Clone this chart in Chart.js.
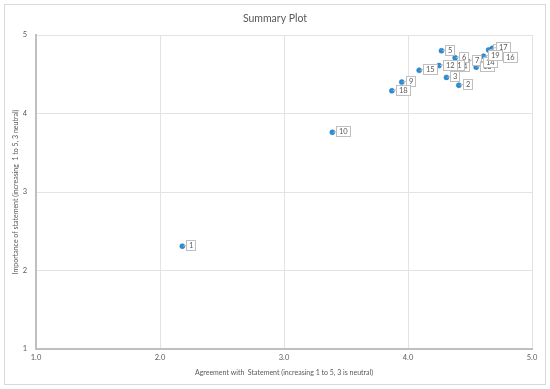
<!DOCTYPE html>
<html>
<head>
<meta charset="utf-8">
<script src="https://cdn.jsdelivr.net/npm/chart.js@4/dist/chart.umd.min.js"></script>
<style>
    html, body { margin: 0; padding: 0; background: #fff; }
    #wrap { width: 550px; height: 389px; }
</style>
</head>
<body>
<div id="wrap"><canvas id="summaryPlot" width="550" height="389"></canvas></div>
<script>
const statementIds = ["1", "2", "3", "4", "5", "6", "7", "8", "9", "10",
    "11", "12", "13", "14", "15", "16", "17", "18", "19"];
const agreement = [2.18, 4.41, 4.31, 4.39, 4.27, 4.38, 4.48, 4.65, 3.95, 3.39,
    4.31, 4.25, 4.55, 4.57, 4.09, 4.73, 4.68, 3.87, 4.61];
const importance = [2.31, 4.36, 4.46, 4.59, 4.80, 4.71, 4.67, 4.81, 4.40, 3.76,
    4.60, 4.61, 4.59, 4.64, 4.55, 4.71, 4.83, 4.29, 4.73];
const xTicks = [1, 2, 3, 4, 5];
const yTicks = [1, 2, 3, 4, 5];

const chartTitle = "Summary Plot";
const textColor = "#595959";
const fontFamily = "Lato, 'Open Sans', sans-serif";

// white boxes with the statement number next to each point
const pointLabels = {
    id: "pointLabels",
    afterDatasetsDraw(chart) {
        const ctx = chart.ctx;
        const meta = chart.getDatasetMeta(0);
        ctx.save();
        ctx.font = "7.5px " + fontFamily;
        ctx.textBaseline = "middle";
        ctx.textAlign = "left";
        meta.data.forEach((pt, i) => {
            const label = statementIds[i];
            const w = Math.round(ctx.measureText(label).width + 5);
            const h = 10;
            const bx = Math.round(pt.x + 4) + 0.5;
            const by = Math.round(pt.y - h / 2 - 1) + 0.5;
            ctx.strokeStyle = "#bfbfbf";
            ctx.lineWidth = 1;
            ctx.beginPath();
            ctx.moveTo(pt.x + 1, pt.y);
            ctx.lineTo(bx, pt.y - 1);
            ctx.stroke();
            ctx.fillStyle = "#fff";
            ctx.fillRect(bx, by, w, h);
            ctx.strokeRect(bx, by, w, h);
            ctx.fillStyle = textColor;
            ctx.fillText(label, bx + 2.5, by + h / 2 + 0.5);
        });
        ctx.restore();
    },
};

// outer frame and the centred chart title
const frameAndTitle = {
    id: "frameAndTitle",
    afterDraw(chart) {
        const ctx = chart.ctx;
        ctx.save();
        ctx.strokeStyle = "#d9d9d9";
        ctx.lineWidth = 1;
        ctx.strokeRect(4.5, 4.5, 541, 380);
        ctx.fillStyle = textColor;
        ctx.font = "10.5px " + fontFamily;
        ctx.textAlign = "center";
        ctx.textBaseline = "middle";
        ctx.fillText(chartTitle, chart.width / 2, 19);
        ctx.restore();
    },
};

const data = {
    datasets: [
        {
            label: "Statements",
            data: agreement.map((a, i) => ({ x: a, y: importance[i] })),
            backgroundColor: "#2b8fd8",
            borderColor: "#1a6fb0",
            borderWidth: 0.5,
            pointRadius: 2.5,
            pointHoverRadius: 2.5,
        },
    ],
};

const config = {
    type: "scatter",
    data: data,
    plugins: [pointLabels, frameAndTitle],
    options: {
        responsive: false,
        animation: false,
        layout: {
            padding: { left: 4, right: 18, top: 35, bottom: 4 },
        },
        plugins: {
            legend: { display: false },
            tooltip: { enabled: false },
            title: { display: false },
        },
        scales: {
            x: {
                type: "linear",
                min: 1,
                max: 5,
                afterFit: (s) => { s.height = 36; },
                afterBuildTicks: (s) => { s.ticks = xTicks.map((v) => ({ value: v })); },
                grid: { color: "#e3e3e3", drawTicks: false },
                border: { color: "#bfbfbf", width: 2 },
                ticks: {
                    padding: 4,
                    color: textColor,
                    font: { size: 7.5, family: fontFamily },
                    callback: (v) => Number(v).toFixed(1),
                },
                title: {
                    display: true,
                    text: "Agreement with  Statement (increasing 1 to 5, 3 is neutral)",
                    color: textColor,
                    font: { size: 7, family: fontFamily },
                    padding: { top: 0, bottom: 8 },
                },
            },
            y: {
                type: "linear",
                min: 1,
                max: 5,
                afterFit: (s) => { s.width = 32; },
                afterBuildTicks: (s) => { s.ticks = yTicks.map((v) => ({ value: v })); },
                grid: { color: "#e3e3e3", drawTicks: false },
                border: { color: "#bfbfbf", width: 2 },
                ticks: {
                    padding: 9,
                    color: textColor,
                    font: { size: 7.5, family: fontFamily },
                },
                title: {
                    display: true,
                    text: "Importance of statement (increasing  1 to 5, 3 neutral)",
                    color: textColor,
                    font: { size: 7, family: fontFamily },
                    padding: { top: 8, bottom: 0 },
                },
            },
        },
    },
};

const ctx = document.getElementById("summaryPlot").getContext("2d");
new Chart(ctx, config);
</script>
</body>
</html>
